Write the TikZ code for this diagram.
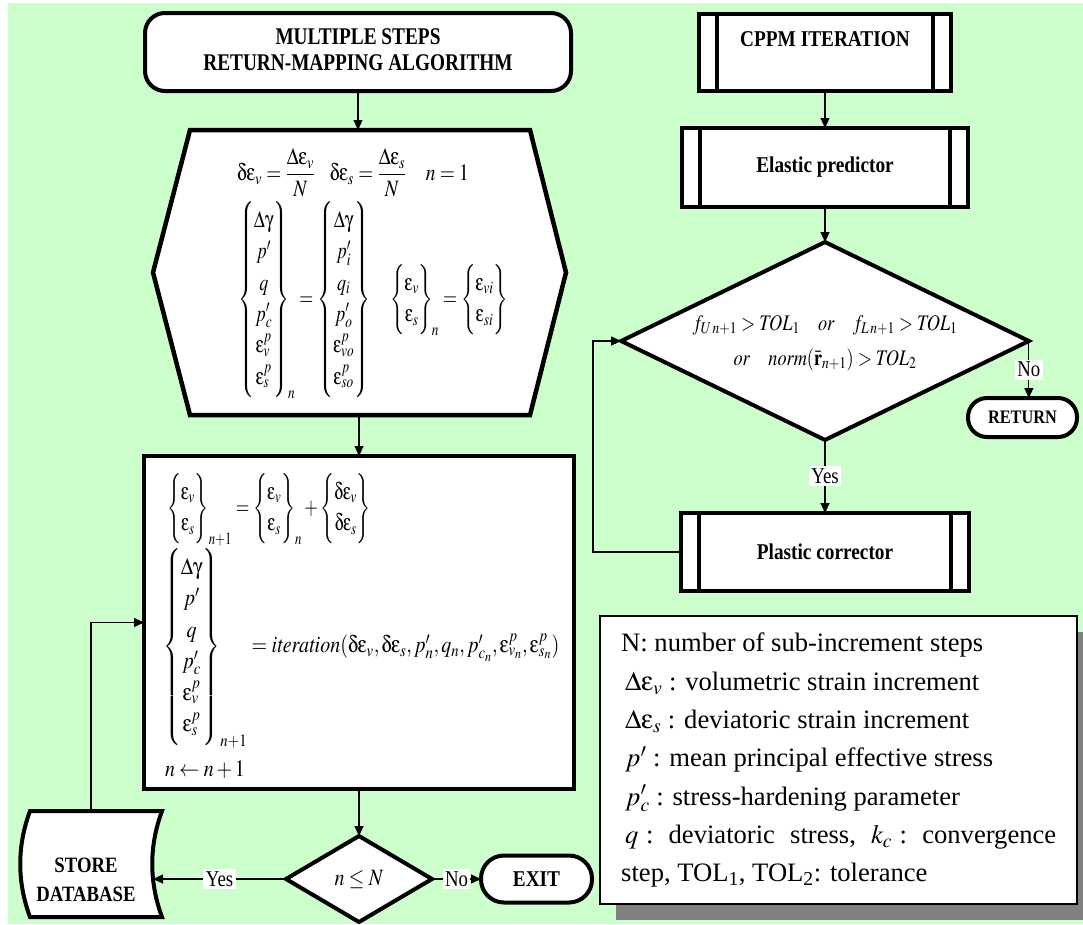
\documentclass[tikz,border=0pt]{standalone}
\usepackage{amsmath}
\usepackage{mathptmx}
\usepackage[no-math]{fontspec}
\setmainfont{Liberation Serif}
\usepackage{graphicx}
\usetikzlibrary{arrows.meta,shapes.geometric,shadows,calc}
\DeclareSymbolFont{upsy}{U}{psy}{m}{n}
\DeclareMathSymbol{\ueps}{\mathord}{upsy}{`e}
\DeclareMathSymbol{\udel}{\mathord}{upsy}{`d}
\DeclareMathSymbol{\ugam}{\mathord}{upsy}{`g}
\definecolor{bggreen}{RGB}{204,255,204}
\definecolor{shadowgray}{RGB}{128,128,128}
\newcommand\V[1]{\scalebox{1}[1.17]{#1}}
\newcommand\VS[2]{\scalebox{#1}[1.17]{#2}}
\newcommand\mfs{\fontsize{20}{24}\selectfont\def\arraystretch{1.12}}
\begin{document}
\begin{tikzpicture}[x=1pt,y=-1pt,
  fig/.style={draw=black,line width=4pt,fill=white,inner sep=0pt,outer sep=0pt},
  conn/.style={draw=black,line width=1.1pt},
  arr/.style={conn,-{Triangle[length=10pt,width=9pt]}},
  lab/.style={fill=white,inner sep=2.5pt,font=\fontsize{18.8}{20}\selectfont},
  bt/.style={font=\fontsize{19.3}{21.4}\selectfont\bfseries},
  bar/.style={draw=black,line width=4pt},
  mth/.style={anchor=west,inner sep=0pt,outer sep=0pt},
]
\useasboundingbox (0,0) rectangle (1083,924);
\fill[bggreen] (8,3) rectangle (1083,924);

% ---------- left column ----------
\node[fig,rounded corners=20pt,minimum width=426pt,minimum height=78pt,bt] (head) at (358,52)
  {\scalebox{1}[1.24]{\begin{tabular}{@{}c@{}}MULTIPLE STEPS\\RETURN-MAPPING ALGORITHM\end{tabular}}};

\node[minimum width=340pt,minimum height=285pt,inner sep=0pt,outer sep=0pt] (hex) at (360,272.5) {};
\draw[fig,line width=4.5pt] (hex.north west) -- (hex.north east) -- ([xshift=36pt]hex.east)
  -- (hex.south east) -- (hex.south west) -- ([xshift=-37pt]hex.west) -- cycle;
\node[mth] (hexa) at (237,173) {\VS{0.97}{\mfs$\udel\ueps_v=\dfrac{\Delta\ueps_v}{N}\ \ \ \udel\ueps_s=\dfrac{\Delta\ueps_s}{N}\ \ \ \ n=1$}};
\node[mth] (hexb) at (238,300) {\VS{0.9}{\mfs$\left\{\begin{matrix}\Delta\ugam\\p'\\q\\p'_c\\\ueps^p_v\\\ueps^p_s\end{matrix}\right\}_{\!n}=\left\{\begin{matrix}\Delta\ugam\\p'_i\\q_i\\p'_o\\\ueps^p_{vo}\\\ueps^p_{so}\end{matrix}\right\}\quad\left\{\begin{matrix}\ueps_v\\\ueps_s\end{matrix}\right\}_{\!n}=\left\{\begin{matrix}\ueps_{vi}\\\ueps_{si}\end{matrix}\right\}$}};

\node[fig,minimum width=430pt,minimum height=333pt] (box) at (359,622.5) {};
\node[mth] (bxa) at (167,510) {\VS{0.87}{\mfs$\left\{\begin{matrix}\ueps_v\\\ueps_s\end{matrix}\right\}_{n+1}=\left\{\begin{matrix}\ueps_v\\\ueps_s\end{matrix}\right\}_n+\left\{\begin{matrix}\udel\ueps_v\\\udel\ueps_s\end{matrix}\right\}$}};
\node[mth] (bxb) at (163,648) {\V{\mfs$\left\{\begin{matrix}\Delta\ugam\\p'\\q\\p'_c\\\ueps^p_v\\\ueps^p_s\end{matrix}\right\}_{n+1}=\mathit{iteration}(\udel\ueps_v,\udel\ueps_s,p'_n,q_n,p'_{c_n},\ueps^p_{v_n},\ueps^p_{s_n})$}};
\node[mth] (bxc) at (165,770) {\V{\mfs$n\leftarrow n+1$}};

\node[fig,diamond,aspect=1.7,minimum width=146pt,minimum height=86pt] (d1) at (359,879) {\V{\mfs$n\le N$}};

\node[minimum width=132pt,minimum height=106pt,inner sep=0pt,outer sep=0pt] (store) at (96,864) {};
\draw[fig] (store.north west) -- (store.north east)
  .. controls ($(store.north east)+(-13,35)$) and ($(store.south east)+(-13,-35)$) .. (store.south east)
  -- (store.south west)
  .. controls ($(store.south west)+(-13,-35)$) and ($(store.north west)+(-13,35)$) .. (store.north west) -- cycle;
\node[font=\fontsize{18.7}{25.6}\selectfont\bfseries] (storet) at (86,881)
  {\V{\begin{tabular}{@{}c@{}}STORE\\DATABASE\end{tabular}}};
\coordinate (storeR) at (153,879);

\node[fig,rounded corners=23pt,minimum width=111pt,minimum height=47pt,bt] (exit) at (536.5,879) {\V{EXIT}};

\draw[arr] (head.south) -- (head.south |- hex.north);
\draw[arr] (box.north |- hex.south) -- (box.north);
\draw[arr] (box.south) -- (d1.north);
\draw[arr] (d1.west) -- (d1.west -| storeR) node[lab,pos=0.5] (yes1) {\scalebox{1}[1.2]{Yes}};
\draw[arr] (d1.east) -- (exit.west) node[lab,pos=0.5] (no1) {\scalebox{1}[1.2]{No}};
\draw[arr] ([xshift=-5pt]store.north) |- (box.west);

% ---------- right column ----------
\node[fig,minimum width=252pt,minimum height=77pt] (cppm) at (825,52.5) {};
\draw[bar] ([xshift=18pt]cppm.north west) -- ([xshift=18pt]cppm.south west);
\draw[bar] ([xshift=-18pt]cppm.north east) -- ([xshift=-18pt]cppm.south east);
\node[bt] (cppmt) at (825,39) {\V{CPPM ITERATION}};

\node[fig,minimum width=286pt,minimum height=79pt,bt] (elastic) at (825,167.5) {\V{Elastic predictor}};
\draw[bar] ([xshift=18pt]elastic.north west) -- ([xshift=18pt]elastic.south west);
\draw[bar] ([xshift=-18pt]elastic.north east) -- ([xshift=-18pt]elastic.south east);

\node[fig,diamond,aspect=2.06,minimum width=396pt,minimum height=192pt] (d2) at (825,341)
  {\VS{0.96}{\fontsize{19}{22.8}\selectfont\def\arraystretch{1.3}\begin{tabular}{@{}c@{}}$f_{U\,n+1}>\mathit{TOL}_1\quad\mathit{or}\quad f_{L\,n+1}>\mathit{TOL}_1$\\$\mathit{or}\quad\mathit{norm}(\bar{\mathbf r}_{n+1})>\mathit{TOL}_2$\end{tabular}}};

\node[fig,rounded corners=19pt,minimum width=109pt,minimum height=39pt,font=\fontsize{16.3}{18}\selectfont\bfseries] (ret) at (1022.5,417.5) {\V{RETURN}};

\node[fig,minimum width=288pt,minimum height=78pt,bt] (plastic) at (825,552) {\V{Plastic corrector}};
\draw[bar] ([xshift=18pt]plastic.north west) -- ([xshift=18pt]plastic.south west);
\draw[bar] ([xshift=-18pt]plastic.north east) -- ([xshift=-18pt]plastic.south east);

\draw[arr] (cppm.south) -- (elastic.north);
\draw[arr] (elastic.south) -- (d2.north);
\draw[arr] (d2.south) -- (plastic.north) node[lab,pos=0.5] (yes2) {\scalebox{1}[1.2]{Yes}};
\draw[arr] (d2.east) -- (d2.east |- ret.north) node[lab,pos=0.5] (no2) {\scalebox{1}[1.2]{No}};
\draw[arr] (plastic.west) -- ++(-88,0) |- (d2.west);

% ---------- legend ----------
\node[draw=black,line width=2pt,fill=white,minimum width=477pt,minimum height=288pt,inner sep=0pt,outer sep=0pt,
  drop shadow={shadow xshift=16pt,shadow yshift=-16pt,fill=shadowgray,opacity=1}] (leg) at (838.5,760) {};
\node[anchor=north west,inner sep=0pt,align=left,font=\fontsize{26.6}{38.3}\selectfont] (legt) at (621,633)
  {N: number of sub-increment steps\\
   \hspace{4pt}$\Delta\ueps_v$ : volumetric strain increment\\
   \hspace{4pt}$\Delta\ueps_s$ : deviatoric strain increment\\
   \hspace{4pt}$p'$ : mean principal effective stress\\
   \hspace{4pt}$p'_c$ : stress-hardening parameter\\
   \makebox[435pt][s]{\hspace{4pt}$q$ :\ \ deviatoric\ \ stress,\ \ $k_c$ :\ \ convergence}\\
   step, TOL\textsubscript{1}, TOL\textsubscript{2}: tolerance};
\end{tikzpicture}
\end{document}
